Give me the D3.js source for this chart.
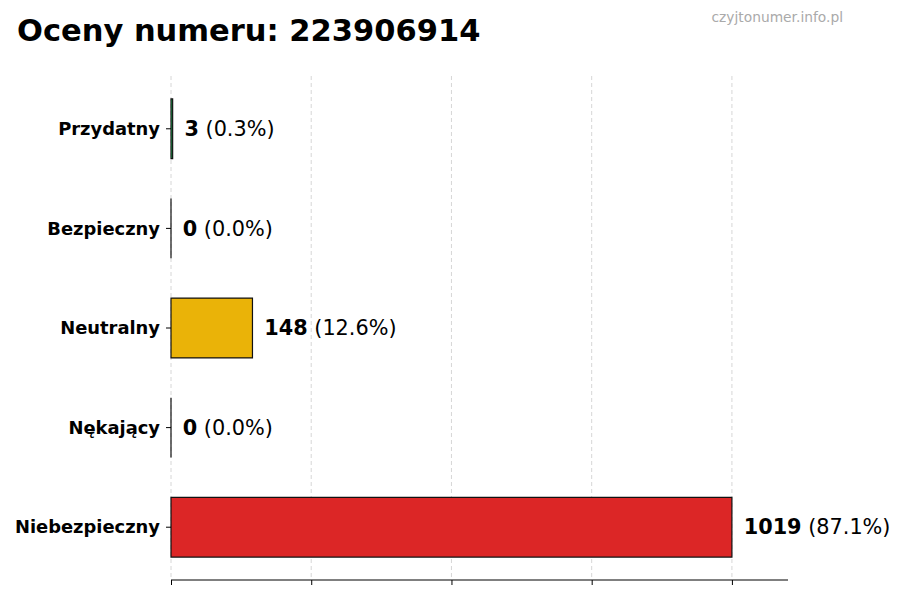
<!DOCTYPE html>
<html>
<head>
<meta charset="utf-8">
<script src="https://cdn.jsdelivr.net/npm/d3@7"></script>
<style>
  body { margin: 0; background: #fff; }
  text { font-family: "DejaVu Sans", sans-serif; }
</style>
</head>
<body>
<div id="chart"></div>
<script>
// data, top to bottom as drawn
var categories = ["Przydatny", "Bezpieczny", "Neutralny", "Nękający", "Niebezpieczny"],
    counts = [3, 0, 148, 0, 1019],
    percents = ["0.3%", "0.0%", "12.6%", "0.0%", "87.1%"],
    colors = ["#22c55e", "#16a34a", "#eab308", "#f97316", "#dc2626"];

var width = 900,
    height = 600,
    plotLeft = 171,
    plotRight = 788,
    plotTop = 76,
    plotBottom = 580;

var maxVal = d3.max(counts);

var svg = d3.select("#chart").append("svg")
  .attr("width", width)
  .attr("height", height);

var x = d3.scaleLinear()
  .domain([0, maxVal * 1.1])
  .range([plotLeft, plotRight]);

// index 0 at the bottom like matplotlib barh
var n = categories.length;
var y = d3.scaleLinear()
  .domain([-0.53, n - 1 + 0.53])
  .range([plotBottom, plotTop]);
var pos = function (i) { return y(n - 1 - i); };
var barH = y(0) - y(0.6);

var ticks = d3.range(5).map(function (i) { return maxVal * i / 4; });

// grid
svg.append("g")
  .selectAll("line")
  .data(ticks)
  .enter()
  .append("line")
  .attr("x1", function (d) { return x(d); })
  .attr("x2", function (d) { return x(d); })
  .attr("y1", plotTop)
  .attr("y2", plotBottom)
  .attr("stroke", "#cccccc")
  .attr("stroke-width", 0.8)
  .attr("stroke-dasharray", "4,3");

// bars as paths so zero-width bars still show their edge
svg.append("g")
  .selectAll("path")
  .data(counts)
  .enter()
  .append("path")
  .attr("d", function (d, i) {
    var y0 = pos(i) - barH / 2, w = x(d) - x(0);
    return "M" + x(0) + "," + y0 + "h" + w + "v" + barH + "h" + (-w) + "Z";
  })
  .attr("fill", function (d, i) { return colors[i]; })
  .attr("stroke", "#111")
  .attr("stroke-width", 1.2);

// x axis: ticks only, no labels
var xAxis = svg.append("g")
  .attr("transform", "translate(0," + plotBottom + ")")
  .call(d3.axisBottom(x).tickValues(ticks).tickSize(5).tickFormat(""));
xAxis.select(".domain").attr("d", "M" + plotLeft + ",0H" + plotRight).attr("stroke", "#000");

// y axis: tick marks and bold labels
var yAxis = svg.append("g")
  .attr("transform", "translate(" + plotLeft + ",0)");
yAxis.selectAll("line")
  .data(categories)
  .enter()
  .append("line")
  .attr("x1", -5)
  .attr("x2", 0)
  .attr("y1", function (d, i) { return pos(i); })
  .attr("y2", function (d, i) { return pos(i); })
  .attr("stroke", "#000");
yAxis.selectAll("text")
  .data(categories)
  .enter()
  .append("text")
  .attr("x", -11)
  .attr("y", function (d, i) { return pos(i); })
  .attr("dy", "0.35em")
  .attr("text-anchor", "end")
  .attr("font-size", "17.9px")
  .attr("font-weight", "bold")
  .text(function (d) { return d; });

// value labels
var vl = svg.append("g")
  .selectAll("text")
  .data(counts)
  .enter()
  .append("text")
  .attr("x", function (d) { return x(d + maxVal * 0.021); })
  .attr("y", function (d, i) { return pos(i); })
  .attr("dy", "0.35em")
  .attr("font-size", "20.8px");
vl.append("tspan")
  .attr("font-weight", "bold")
  .text(function (d) { return d; });
vl.append("tspan")
  .text(function (d, i) { return " (" + percents[i] + ")"; });

// title & watermark
svg.append("text")
  .attr("x", 17)
  .attr("y", 41)
  .attr("font-size", "30.5px")
  .attr("font-weight", "bold")
  .text("Oceny numeru: 223906914");

svg.append("text")
  .attr("x", 843)
  .attr("y", 22)
  .attr("text-anchor", "end")
  .attr("font-size", "13.8px")
  .attr("fill", "#aaaaaa")
  .text("czyjtonumer.info.pl");
</script>
</body>
</html>
